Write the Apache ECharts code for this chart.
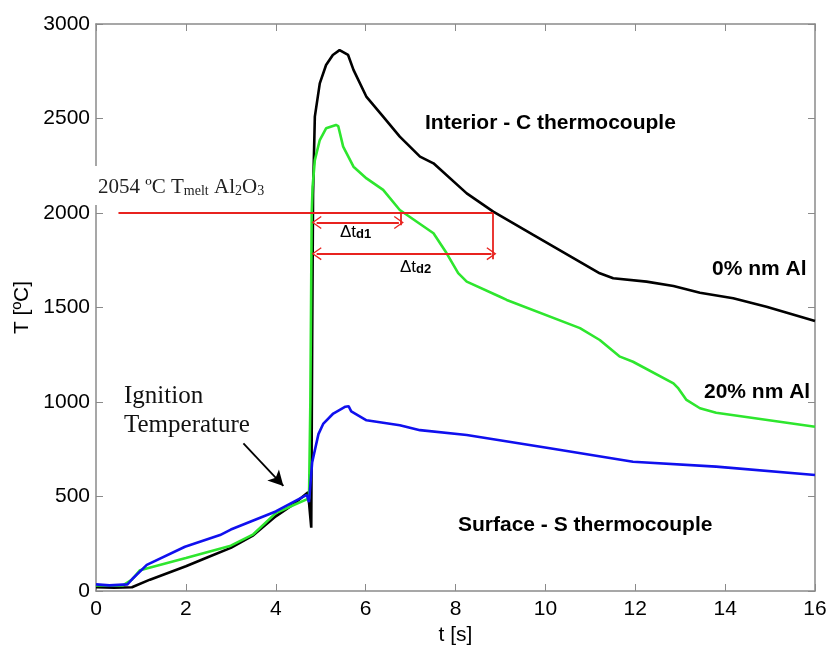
<!DOCTYPE html>
<html>
<head>
<meta charset="utf-8">
<script src="https://cdn.jsdelivr.net/npm/echarts@6/dist/echarts.min.js"></script>
<style>
  html, body { margin: 0; padding: 0; background: #fff; }
  #chart { width: 827px; height: 648px; }
</style>
</head>
<body>
<div id="chart"></div>
<script>
// 0% nm Al - interior C thermocouple (black)
var tBlack = [0, 0.4, 0.8, 1.2, 2, 2.5, 3, 3.5, 4, 4.4, 4.72, 4.79, 4.81, 4.83, 4.87, 4.98, 5.12, 5.27, 5.42, 5.61, 5.73, 6.02, 6.39, 6.76, 7.21, 7.51, 8.25, 8.84, 9.73, 10.47, 11.21, 11.51, 12.25, 12.85, 13.44, 14.18, 14.92, 16];
var yBlack = [20, 18, 20, 60, 131, 180, 228, 295, 395, 460, 522, 335, 1300, 2100, 2510, 2686, 2783, 2836, 2862, 2836, 2757, 2614, 2510, 2404, 2298, 2263, 2104, 2007, 1884, 1783, 1681, 1655, 1637, 1614, 1578, 1549, 1504, 1428];

// 20% nm Al (green)
var tGreen = [0, 0.6, 0.8, 0.98, 2, 3, 3.5, 4, 4.4, 4.74, 4.77, 4.80, 4.82, 4.87, 4.98, 5.12, 5.34, 5.39, 5.5, 5.73, 6.02, 6.39, 6.76, 7.51, 7.8, 8.06, 8.25, 8.99, 9.14, 10.77, 11.21, 11.66, 11.95, 12.85, 12.96, 13.14, 13.44, 13.8, 16];
var yGreen = [30, 30, 60, 110, 175, 240, 300, 412, 455, 490, 1000, 2000, 2140, 2280, 2386, 2448, 2466, 2460, 2351, 2245, 2183, 2122, 2016, 1893, 1788, 1682, 1637, 1557, 1540, 1391, 1328, 1240, 1213, 1099, 1072, 1011, 967, 943, 869];

// Surface - S thermocouple (blue)
var tBlue = [0, 0.3, 0.7, 0.83, 1.13, 1.98, 2.76, 3, 4, 4.69, 4.74, 4.77, 4.81, 4.87, 4.95, 5.06, 5.28, 5.55, 5.62, 5.68, 6.02, 6.76, 7.21, 8.25, 10.1, 11.95, 13.8, 16];
var yBlue = [35, 30, 35, 69, 138, 234, 296, 325, 421, 509, 470, 560, 680, 745, 830, 886, 939, 975, 978, 950, 903, 877, 851, 825, 755, 684, 658, 614];

var xTicks = [0, 2, 4, 6, 8, 10, 12, 14, 16];
var yTicks = [0, 500, 1000, 1500, 2000, 2500, 3000];

// melting line and delay markers
var meltT = 2000;
var meltStart = 0.5;
var td1End = 6.78;
var td2End = 8.84;
var arrowStart = 4.91;

function pairs(t, y) {
    return t.map(function (v, i) { return [v, y[i]]; });
}

var axisGray = '#8a8a8a';
var sans = 'Liberation Sans, Arial, sans-serif';
var serif = 'Liberation Serif, Times New Roman, serif';
var red = '#e8231f';
var chevron = 'path://M0,0 L-10,14 L-8.4,15.2 L0,3.4 L8.4,15.2 L10,14 Z';

function frameAxis(pos) {
    return {
        position: pos,
        axisLine: { onZero: false, lineStyle: { color: axisGray, width: 1.5 } },
        axisTick: { inside: true, length: 7, lineStyle: { color: axisGray } },
        axisLabel: { show: false }, splitLine: { show: false }
    };
}

var topAxis = frameAxis('top');
topAxis.type = 'value'; topAxis.min = 0; topAxis.max = 16; topAxis.interval = 2;
var rightAxis = frameAxis('right');
rightAxis.type = 'value'; rightAxis.min = 0; rightAxis.max = 3000; rightAxis.interval = 500;

var option = {
    animation: false,
    backgroundColor: '#fff',
    grid: { left: 96, right: 12, top: 24, bottom: 57, outerBoundsMode: 'none', containLabel: false },
    xAxis: [{
        type: 'value', min: 0, max: 16, interval: 2, position: 'bottom',
        name: 't [s]', nameLocation: 'middle', nameGap: 25,
        nameTextStyle: { color: '#000', fontSize: 21, fontFamily: sans },
        axisLine: { onZero: false, lineStyle: { color: axisGray, width: 1.5 } },
        axisTick: { inside: true, length: 7, lineStyle: { color: axisGray } },
        axisLabel: { color: '#000', fontSize: 21, fontFamily: sans, margin: 8,
            formatter: function (v) { return xTicks.indexOf(v) >= 0 ? v : ''; } },
        splitLine: { show: false }
    }, topAxis],
    yAxis: [{
        type: 'value', min: 0, max: 3000, interval: 500, position: 'left',
        name: 'T [ºC]', nameLocation: 'middle', nameGap: 56, nameRotate: 90,
        nameTextStyle: { color: '#000', fontSize: 21, fontFamily: sans },
        axisLine: { onZero: false, lineStyle: { color: axisGray, width: 1.5 } },
        axisTick: { inside: true, length: 7, lineStyle: { color: axisGray } },
        axisLabel: { color: '#000', fontSize: 21, fontFamily: sans, margin: 6,
            formatter: function (v) { return yTicks.indexOf(v) >= 0 ? v : ''; } },
        splitLine: { show: false }
    }, rightAxis],
    series: [{
        name: '0% nm Al', type: 'line', data: pairs(tBlack, yBlack),
        showSymbol: false, z: 3,
        lineStyle: { color: '#000', width: 2.6 }
    }, {
        name: '20% nm Al', type: 'line', data: pairs(tGreen, yGreen),
        showSymbol: false, z: 4,
        lineStyle: { color: '#2ee62e', width: 2.6 }
    }, {
        name: 'Surface', type: 'line', data: pairs(tBlue, yBlue),
        showSymbol: false, z: 5,
        lineStyle: { color: '#1010ee', width: 2.6 }
    }, {
        name: 'marks', type: 'line', data: [], z: 6,
        markLine: {
            silent: true, symbol: 'none', label: { show: false },
            lineStyle: { color: red, width: 1.8, type: 'solid' },
            data: [
                [{ coord: [meltStart, meltT] }, { coord: [td2End, meltT] }],
                [{ coord: [td1End, meltT] }, { coord: [td1End, 1935] }],
                [{ coord: [td2End, meltT] }, { coord: [td2End, 1755] }],
                [{ coord: [arrowStart, 1950], symbol: chevron, symbolSize: [13, 10] },
                 { coord: [td1End - 0.04, 1950], symbol: chevron, symbolSize: [13, 10] }],
                [{ coord: [arrowStart, 1785], symbol: chevron, symbolSize: [13, 10] },
                 { coord: [td2End - 0.04, 1785], symbol: chevron, symbolSize: [13, 10] }],
                [{ coord: [3.28, 781], symbol: 'none', lineStyle: { color: '#000', width: 1.8 } },
                 { coord: [4.17, 556], symbol: 'arrow', symbolSize: [12, 15] }]
            ]
        }
    }],
    graphic: [{
        type: 'rect', z: 100,
        shape: { x: 84, y: 166, width: 190, height: 39 },
        style: { fill: '#fff' }
    }, {
        type: 'text', z: 101, left: 98, top: 177,
        style: {
            text: '{m|2054 ºC T}{s|melt}{m| Al}{s|2}{m|O}{s|3}',
            rich: {
                m: { fontFamily: serif, fontSize: 21, fill: '#222', verticalAlign: 'middle' },
                s: { fontFamily: serif, fontSize: 14, fill: '#222', verticalAlign: 'bottom' }
            }
        }
    }, {
        type: 'text', z: 101, left: 340, top: 224,
        style: {
            text: '{m|Δt}{s|d1}',
            rich: {
                m: { fontFamily: sans, fontSize: 17, fill: '#000', verticalAlign: 'middle' },
                s: { fontFamily: sans, fontSize: 13, fontWeight: 'bold', fill: '#000', verticalAlign: 'bottom' }
            }
        }
    }, {
        type: 'text', z: 101, left: 400, top: 259,
        style: {
            text: '{m|Δt}{s|d2}',
            rich: {
                m: { fontFamily: sans, fontSize: 17, fill: '#000', verticalAlign: 'middle' },
                s: { fontFamily: sans, fontSize: 13, fontWeight: 'bold', fill: '#000', verticalAlign: 'bottom' }
            }
        }
    }, {
        type: 'text', z: 101, left: 425, top: 113,
        style: { text: 'Interior - C thermocouple', font: 'bold 21px ' + sans, fill: '#000' }
    }, {
        type: 'text', z: 101, left: 712, top: 259,
        style: { text: '0% nm Al', font: 'bold 21px ' + sans, fill: '#000' }
    }, {
        type: 'text', z: 101, left: 704, top: 382,
        style: { text: '20% nm Al', font: 'bold 21px ' + sans, fill: '#000' }
    }, {
        type: 'text', z: 101, left: 458, top: 515,
        style: { text: 'Surface - S thermocouple', font: 'bold 21px ' + sans, fill: '#000' }
    }, {
        type: 'text', z: 101, left: 124, top: 382,
        style: { text: 'Ignition\nTemperature', font: '25px ' + serif, fill: '#111', lineHeight: 29 }
    }]
};

var myChart = echarts.init(document.getElementById('chart'));
myChart.setOption(option);
</script>
</body>
</html>
